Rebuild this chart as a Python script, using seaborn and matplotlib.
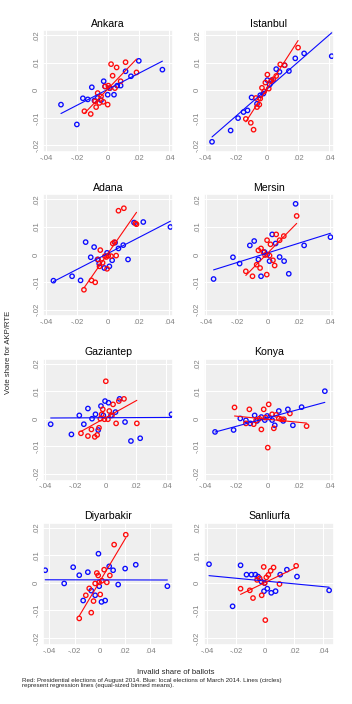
import matplotlib
matplotlib.use("Agg")
import matplotlib.pyplot as plt
from matplotlib.ticker import FuncFormatter, FixedLocator
import numpy as np
import pandas as pd
import seaborn as sns

# binned means (x = invalid share, y = vote share)
ankara_blue_x = [-0.0303, -0.0200, -0.0161, -0.0129, -0.0103, -0.0086, -0.0065, -0.0043, -0.0026, -0.0017,
                 0.0000, 0.0015, 0.0041, 0.0062, 0.0084, 0.0116, 0.0151, 0.0202, 0.0355]
ankara_blue_y = [-0.0052, -0.0124, -0.0029, -0.0033, 0.0011, -0.0037, -0.0028, -0.0036, 0.0033, 0.0014,
                 -0.0016, 0.0008, -0.0016, 0.0017, 0.0017, 0.0069, 0.0051, 0.0107, 0.0075]
ankara_red_x = [-0.0151, -0.0110, -0.0082, -0.0075, -0.0065, -0.0054, -0.0043, -0.0028, -0.0017, 0.0000,
                0.0004, 0.0011, 0.0022, 0.0032, 0.0047, 0.0058, 0.0084, 0.0116, 0.0187]
ankara_red_y = [-0.0076, -0.0086, -0.0040, -0.0061, -0.0010, -0.0046, -0.0022, -0.0042, 0.0014, -0.0052,
                0.0017, 0.0008, 0.0095, 0.0053, 0.0008, 0.0083, 0.0033, 0.0102, 0.0065]

istanbul_blue_x = [-0.0357, -0.0237, -0.0189, -0.0154, -0.0128, -0.0102, -0.0067, -0.0046, -0.0026, 0.0000,
                   0.0015, 0.0028, 0.0057, 0.0078, 0.0111, 0.0139, 0.0180, 0.0237, 0.0415]
istanbul_blue_y = [-0.0187, -0.0146, -0.0101, -0.0079, -0.0073, -0.0026, -0.0049, -0.0018, -0.0012, 0.0037,
                   0.0021, 0.0037, 0.0077, 0.0067, 0.0091, 0.0070, 0.0116, 0.0134, 0.0124]
istanbul_red_x = [-0.0139, -0.0107, -0.0089, -0.0074, -0.0067, -0.0052, -0.0046, -0.0035, -0.0020, -0.0013,
                  0.0000, 0.0009, 0.0024, 0.0039, 0.0057, 0.0083, 0.0111, 0.0198]
istanbul_red_y = [-0.0104, -0.0118, -0.0143, -0.0028, -0.0061, -0.0052, -0.0030, 0.0009, -0.0004, 0.0028,
                  0.0057, 0.0006, 0.0033, 0.0040, 0.0052, 0.0094, 0.0091, 0.0155]

adana_blue_x = [-0.0352, -0.0231, -0.0176, -0.0143, -0.0110, -0.0088, -0.0066, -0.0055, -0.0022, -0.0004,
                0.0011, 0.0029, 0.0048, 0.0070, 0.0101, 0.0132, 0.0171, 0.0231, 0.0407]
adana_blue_y = [-0.0095, -0.0079, -0.0094, 0.0045, -0.0010, 0.0027, -0.0018, -0.0033, -0.0049, 0.0006,
                -0.0043, -0.0021, 0.0043, 0.0022, 0.0034, -0.0018, 0.0116, 0.0118, 0.0100]
adana_red_x = [-0.0154, -0.0105, -0.0081, -0.0062, -0.0053, -0.0048, -0.0033, -0.0018, -0.0009, -0.0004,
               0.0004, 0.0022, 0.0033, 0.0044, 0.0055, 0.0070, 0.0105, 0.0180, 0.0187]
adana_red_y = [-0.0128, -0.0094, -0.0101, -0.0018, -0.0043, 0.0016, -0.0030, -0.0006, -0.0009, -0.0052,
               -0.0004, -0.0006, 0.0040, 0.0045, -0.0004, 0.0159, 0.0168, 0.0113, 0.0110]

mersin_blue_x = [-0.0352, -0.0227, -0.0184, -0.0118, -0.0090, -0.0063, -0.0046, -0.0024, -0.0007, 0.0009,
                 0.0026, 0.0048, 0.0074, 0.0103, 0.0133, 0.0177, 0.0232, 0.0402]
mersin_blue_y = [-0.0089, -0.0010, -0.0033, 0.0033, 0.0049, -0.0018, -0.0079, 0.0009, 0.0000, -0.0024,
                 0.0073, 0.0040, -0.0009, -0.0024, -0.0070, 0.0184, 0.0033, 0.0063]
mersin_red_x = [-0.0144, -0.0101, -0.0074, -0.0063, -0.0052, -0.0046, -0.0031, -0.0020, -0.0009, -0.0007,
                0.0009, 0.0015, 0.0031, 0.0042, 0.0052, 0.0074, 0.0101, 0.0184]
mersin_red_y = [-0.0061, -0.0079, -0.0037, 0.0015, -0.0049, 0.0022, 0.0009, -0.0002, -0.0073, 0.0052,
                -0.0004, 0.0037, -0.0021, -0.0040, 0.0073, 0.0052, 0.0067, 0.0140]

gaziantep_blue_x = [-0.0364, -0.0227, -0.0175, -0.0145, -0.0118, -0.0091, -0.0068, -0.0050, -0.0032, -0.0016,
                    -0.0005, 0.0018, 0.0034, 0.0064, 0.0091, 0.0127, 0.0166, 0.0227, 0.0434]
gaziantep_blue_y = [-0.0020, -0.0057, 0.0012, -0.0020, 0.0037, 0.0000, 0.0016, -0.0041, 0.0046, 0.0012,
                    0.0064, 0.0058, 0.0012, 0.0024, 0.0072, -0.0012, -0.0081, -0.0071, 0.0016]
gaziantep_red_x = [-0.0164, -0.0118, -0.0095, -0.0073, -0.0057, -0.0045, -0.0036, -0.0027, -0.0020, -0.0009,
                   0.0000, 0.0014, 0.0023, 0.0041, 0.0048, 0.0068, 0.0086, 0.0120, 0.0205]
gaziantep_red_y = [-0.0053, -0.0063, -0.0039, -0.0066, -0.0059, -0.0033, 0.0000, 0.0016, 0.0034, -0.0002,
                   0.0136, -0.0002, 0.0028, 0.0012, 0.0052, -0.0017, 0.0064, 0.0072, -0.0017]

konya_blue_x = [-0.0338, -0.0219, -0.0176, -0.0140, -0.0112, -0.0084, -0.0069, -0.0041, -0.0019, -0.0004,
                0.0011, 0.0028, 0.0045, 0.0071, 0.0099, 0.0129, 0.0161, 0.0217, 0.0366]
konya_blue_y = [-0.0048, -0.0041, 0.0001, -0.0006, -0.0017, 0.0012, -0.0008, 0.0006, -0.0005, 0.0010,
                0.0004, -0.0005, -0.0024, 0.0028, -0.0008, 0.0034, -0.0024, 0.0042, 0.0100]
konya_red_x = [-0.0213, -0.0140, -0.0118, -0.0090, -0.0075, -0.0054, -0.0041, -0.0026, -0.0015, 0.0000,
               0.0006, 0.0028, 0.0039, 0.0054, 0.0071, 0.0086, 0.0103, 0.0142, 0.0249]
konya_red_y = [0.0041, -0.0017, 0.0034, -0.0020, -0.0006, 0.0000, -0.0039, 0.0034, 0.0004, -0.0105,
               0.0052, 0.0016, -0.0035, 0.0014, 0.0001, -0.0002, -0.0002, 0.0019, -0.0027]

diyarbakir_blue_x = [-0.0432, -0.0282, -0.0211, -0.0163, -0.0132, -0.0095, -0.0068, -0.0037, -0.0011, -0.0005,
                     0.0013, 0.0042, 0.0074, 0.0105, 0.0145, 0.0200, 0.0284, 0.0534]
diyarbakir_blue_y = [0.0046, -0.0002, 0.0057, 0.0028, -0.0064, 0.0039, -0.0028, -0.0045, 0.0106, -0.0012,
                     -0.0069, -0.0064, 0.0060, 0.0046, -0.0006, 0.0052, 0.0066, -0.0012]
diyarbakir_red_x = [-0.0163, -0.0111, -0.0084, -0.0068, -0.0050, -0.0037, -0.0024, -0.0013, -0.0005, 0.0003,
                    0.0016, 0.0034, 0.0055, 0.0079, 0.0113, 0.0205]
diyarbakir_red_y = [-0.0129, -0.0045, -0.0020, -0.0108, -0.0066, -0.0002, 0.0036, 0.0027, 0.0002, -0.0042,
                    0.0008, 0.0048, 0.0002, 0.0027, 0.0139, 0.0175]

sanliurfa_blue_x = [-0.0389, -0.0226, -0.0171, -0.0130, -0.0096, -0.0069, -0.0050, -0.0027, -0.0009, -0.0005,
                    0.0014, 0.0041, 0.0071, 0.0103, 0.0149, 0.0219, 0.0441]
sanliurfa_blue_y = [0.0068, -0.0085, 0.0064, 0.0030, 0.0030, 0.0030, 0.0023, 0.0005, -0.0030, -0.0001,
                    -0.0021, -0.0036, -0.0030, 0.0030, 0.0048, 0.0023, -0.0027]
sanliurfa_red_x = [-0.0171, -0.0107, -0.0085, -0.0057, -0.0039, -0.0025, -0.0011, -0.0005, 0.0000, 0.0007,
                   0.0021, 0.0037, 0.0057, 0.0098, 0.0213]
sanliurfa_red_y = [-0.0021, -0.0027, -0.0055, 0.0011, 0.0017, -0.0045, 0.0058, 0.0000, -0.0135, 0.0020,
                   0.0029, 0.0044, 0.0056, -0.0004, 0.0062]

cities = ["Ankara", "Istanbul", "Adana", "Mersin", "Gaziantep", "Konya", "Diyarbakir", "Sanliurfa"]
blue_series = [(ankara_blue_x, ankara_blue_y), (istanbul_blue_x, istanbul_blue_y),
               (adana_blue_x, adana_blue_y), (mersin_blue_x, mersin_blue_y),
               (gaziantep_blue_x, gaziantep_blue_y), (konya_blue_x, konya_blue_y),
               (diyarbakir_blue_x, diyarbakir_blue_y), (sanliurfa_blue_x, sanliurfa_blue_y)]
red_series = [(ankara_red_x, ankara_red_y), (istanbul_red_x, istanbul_red_y),
              (adana_red_x, adana_red_y), (mersin_red_x, mersin_red_y),
              (gaziantep_red_x, gaziantep_red_y), (konya_red_x, konya_red_y),
              (diyarbakir_red_x, diyarbakir_red_y), (sanliurfa_red_x, sanliurfa_red_y)]
x_limits = [(-0.042, 0.0425), (-0.041, 0.043), (-0.042, 0.0425), (-0.0415, 0.0425),
            (-0.0415, 0.0445), (-0.041, 0.0425), (-0.045, 0.058), (-0.0425, 0.0475)]
y_limits = (-0.0225, 0.0218)
tick_values = [-0.04, -0.02, 0, 0.02, 0.04]
ytick_values = [-0.02, -0.01, 0, 0.01, 0.02]

sns.set_theme(style="darkgrid", rc={
    "axes.facecolor": "#efefef",
    "grid.color": "white",
    "grid.linewidth": 0.8,
})
plt.rcParams["font.family"] = ["Liberation Sans", "DejaVu Sans"]


def stata_fmt(v, pos=None):
    # ".02" / "-.01" / "0"
    if abs(v) < 1e-12:
        return "0"
    s = f"{v:.2f}".rstrip("0")
    return s.replace("0.", ".")


fig, axs = plt.subplots(4, 2, figsize=(3.52, 7.04), dpi=100)
fig.subplots_adjust(left=0.122, right=0.949, top=0.957, bottom=0.084, hspace=0.346, wspace=0.235)

for i, ax in enumerate(axs.flatten()):
    bx, by = blue_series[i]
    rx, ry = red_series[i]
    for xs, ys, col in [(bx, by, "#0a0aff"), (rx, ry, "#ff0a0a")]:
        df = pd.DataFrame({"x": xs, "y": ys})
        sns.regplot(
            data=df, x="x", y="y", ax=ax, ci=None, color=col, truncate=True,
            scatter_kws={"s": 10, "facecolors": "none", "edgecolors": col, "linewidths": 0.95, "alpha": 1},
            line_kws={"lw": 0.8},
        )
    ax.set_xlim(*x_limits[i])
    ax.set_ylim(*y_limits)
    ax.xaxis.set_major_locator(FixedLocator(tick_values))
    ax.yaxis.set_major_locator(FixedLocator(ytick_values))
    ax.xaxis.set_major_formatter(FuncFormatter(stata_fmt))
    ax.yaxis.set_major_formatter(FuncFormatter(stata_fmt))
    ax.tick_params(axis="both", length=0, pad=2, labelsize=5.6, labelcolor="#808080")
    for lab in ax.get_yticklabels():
        lab.set_rotation(90)
        lab.set_va("center")
    ax.set_xlabel("")
    ax.set_ylabel("")
    ax.set_title(cities[i], fontsize=7.6, pad=2.5, color="black")

fig.text(0.023, 0.5, "Vote share for AKP/RTE", rotation=90, ha="center", va="center", fontsize=5.6)
fig.text(0.5, 0.045, "Invalid share of ballots", ha="center", va="center", fontsize=5.6)
fig.text(0.0625, 0.037,
         "Red: Presidential elections of August 2014. Blue: local elections of March 2014. Lines (circles)\n"
         "represent regression lines (equal-sized binned means).",
         ha="left", va="top", fontsize=4.5, linespacing=1.0)

fig.savefig("out.png", dpi=100)
